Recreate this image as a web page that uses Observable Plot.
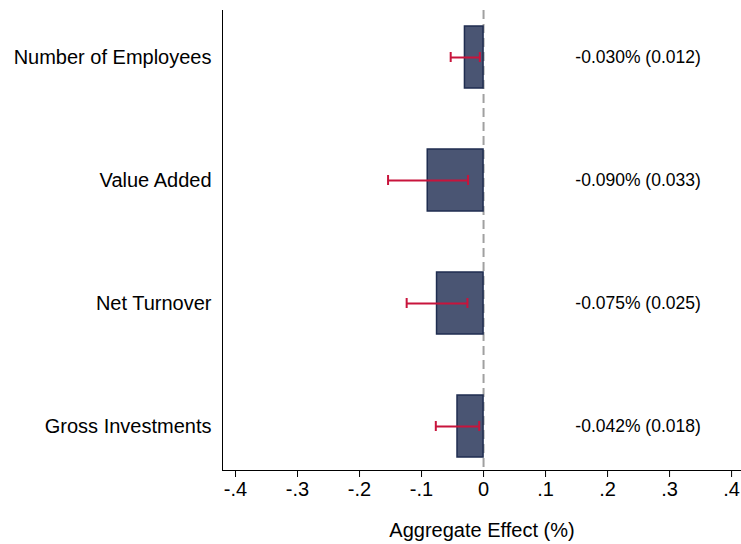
<!DOCTYPE html>
<html><head><meta charset="utf-8">
<script src="https://cdn.jsdelivr.net/npm/d3@7"></script>
<script src="https://cdn.jsdelivr.net/npm/@observablehq/plot@0.6"></script>
<style>body{margin:0;background:#fff;} svg{display:block;}</style>
</head><body><div id="chart"></div>
<script>
const categories = ["Number of Employees", "Value Added", "Net Turnover", "Gross Investments"];
const effects = [-0.030, -0.090, -0.075, -0.042];
const ciLow = [-0.053, -0.154, -0.124, -0.077];
const ciHigh = [-0.006, -0.025, -0.026, -0.007];
const labels = ["-0.030% (0.012)", "-0.090% (0.033)", "-0.075% (0.025)", "-0.042% (0.018)"];
const xTicks = [-0.4, -0.3, -0.2, -0.1, 0, 0.1, 0.2, 0.3, 0.4];
const labelX = 0.148;

const data = categories.map((c, i) => ({name: c, effect: effects[i], lo: ciLow[i], hi: ciHigh[i], label: labels[i]}));

const fmt = d => d === 0 ? "0" : d.toFixed(1).replace("0.", ".");

const chart = Plot.plot({
  width: 741, height: 544,
  marginLeft: 222, marginRight: 0, marginTop: 10, marginBottom: 74,
  style: {fontFamily: "'Liberation Sans', Arial, sans-serif", background: "#fff", color: "#000"},
  x: {domain: [-0.421, 0.416]},
  y: {domain: categories, paddingInner: 0.5, paddingOuter: 0.11, align: 0.55},
  marks: [
    Plot.ruleX([0], {stroke: "#a0a0a0", strokeWidth: 2, strokeDasharray: "9,5"}),
    Plot.barX(data, {y: "name", x1: 0, x2: "effect", fill: "#4a5573", stroke: "#1f2d50", strokeWidth: 1.5}),
    Plot.ruleY(data, {y: "name", x1: "lo", x2: "hi", stroke: "#c8143c", strokeWidth: 2}),
    Plot.tickX(data, {y: "name", x: "lo", stroke: "#c8143c", strokeWidth: 2, insetTop: 26, insetBottom: 26}),
    Plot.tickX(data, {y: "name", x: "hi", stroke: "#c8143c", strokeWidth: 2, insetTop: 26, insetBottom: 26}),
    Plot.text(data, {y: "name", x: labelX, text: "label", textAnchor: "start", fontSize: 17.5, fill: "#000"}),
    Plot.axisY({tickSize: 0, tickPadding: 11, fontSize: 20, label: null}),
    Plot.axisX({ticks: xTicks, tickFormat: fmt, tickSize: 7, tickPadding: 4, fontSize: 20, label: "Aggregate Effect (%)", labelAnchor: "center", labelOffset: 66, labelArrow: "none"}),
    Plot.frame({anchor: "left", stroke: "#000"}),
    Plot.frame({anchor: "bottom", stroke: "#000"})
  ]
});
document.getElementById("chart").appendChild(chart);
</script>
</body></html>
